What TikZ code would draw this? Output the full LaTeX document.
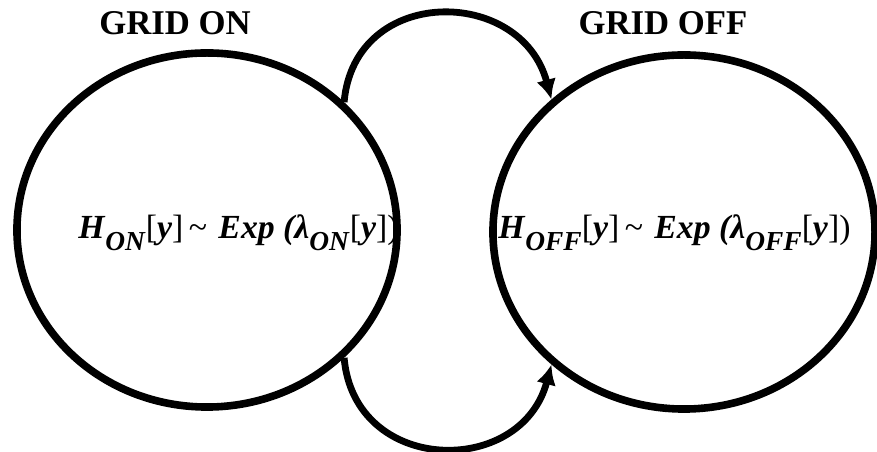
\documentclass[tikz,border=0pt]{standalone}
\usepackage{fontspec}
\setmainfont{Liberation Serif}
\usetikzlibrary{arrows.meta,shapes.geometric,positioning}

\newcommand{\bi}[1]{\textbf{\textit{#1}}}
\newcommand{\lowsub}[1]{\raisebox{-0.35em}{\fontsize{19.5}{20}\selectfont\bi{#1}}}

\begin{document}
\begin{tikzpicture}[x=0.025cm,y=0.025cm,
    state/.style={ellipse,draw,line width=0.19cm,inner sep=0pt,
                  minimum width=9.5cm,minimum height=8.85cm},
    flow/.style={-{Latex[length=0.5cm,width=0.5cm]},line width=0.17cm,
                 looseness=1.45},
    title/.style={font=\fontsize{24.7}{26}\selectfont\bfseries,anchor=base},
    formula/.style={font=\fontsize{24}{26}\selectfont,anchor=base west,
                    inner sep=0pt}]

    \useasboundingbox (0,0) rectangle (877,452);

    % ════════ estados ════════
    \node[state] (on) at (207,222) {};
    \node[state,minimum width=9.55cm] (off) at (684,220) {};

    \node[title] (ontitle) at (175,417) {GRID ON};
    \node[title] (offtitle) at (663,417) {GRID OFF};

    % tempos de permanencia
    \node[formula] (onform) at (78,213)
      {\bi{H}\lowsub{ON}[\bi{y}]\,\textasciitilde\,\,\bi{Exp (λ}\lowsub{ON}[\bi{y}])};
    \node[formula] (offform) at (498,213)
      {\bi{H}\lowsub{OFF}[\bi{y}]\,\textasciitilde\,\,\bi{Exp (λ}\lowsub{OFF}[\bi{y}])};

    % ════════ transicoes ════════
    \draw[flow] (on.43) to[out=85,in=105] (off.135);
    \draw[flow] (on.-43) to[out=-85,in=-105] (off.-135);

\end{tikzpicture}
\end{document}
